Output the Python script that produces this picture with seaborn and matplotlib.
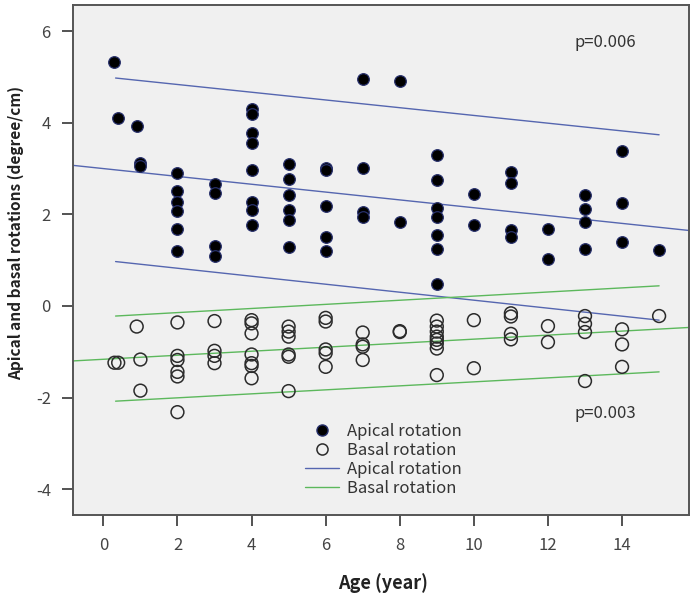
import numpy as np
import pandas as pd
import matplotlib
matplotlib.use("Agg")
import matplotlib.pyplot as plt
import seaborn as sns
from matplotlib.lines import Line2D

# ---- data ----
apical_age = [0.3, 0.4, 0.9, 1.0, 1.0,
              2, 2, 2, 2, 2, 2,
              3, 3, 3, 3,
              4, 4, 4, 4, 4, 4, 4, 4,
              5, 5, 5, 5, 5, 5,
              6, 6, 6, 6, 6,
              7, 7, 7, 7,
              8, 8,
              9, 9, 9, 9, 9, 9, 9,
              10, 10,
              11, 11, 11, 11,
              12, 12,
              13, 13, 13, 13,
              14, 14, 14,
              15]
apical_val = [5.32, 4.10, 3.94, 3.12, 3.05,
              2.90, 2.51, 2.28, 2.08, 1.68, 1.21,
              2.66, 2.46, 1.30, 1.10,
              4.31, 4.20, 3.77, 3.56, 2.97, 2.28, 2.10, 1.77,
              3.10, 2.77, 2.43, 2.10, 1.88, 1.28,
              3.01, 2.97, 2.19, 1.50, 1.19,
              4.96, 3.02, 2.05, 1.95,
              4.92, 1.84,
              3.30, 2.75, 2.14, 1.94, 1.54, 1.24, 0.48,
              2.44, 1.77,
              2.92, 2.68, 1.66, 1.50,
              1.68, 1.02,
              2.43, 2.12, 1.84, 1.24,
              3.39, 2.24, 1.39,
              1.22]

basal_age = [0.3, 0.4, 0.9, 1.0, 1.0,
             2, 2, 2, 2, 2, 2,
             3, 3, 3, 3,
             4, 4, 4, 4, 4, 4, 4,
             5, 5, 5, 5, 5, 5,
             6, 6, 6, 6, 6,
             7, 7, 7, 7,
             8, 8,
             9, 9, 9, 9, 9, 9, 9, 9,
             10, 10,
             11, 11, 11, 11,
             12, 12,
             13, 13, 13, 13,
             14, 14, 14,
             15]
basal_val = [-1.24, -1.24, -0.45, -1.17, -1.85,
             -0.36, -1.09, -1.18, -1.44, -1.54, -2.32,
             -0.33, -0.98, -1.09, -1.25,
             -0.31, -0.38, -0.60, -1.06, -1.25, -1.31, -1.58,
             -0.45, -0.56, -0.67, -1.06, -1.11, -1.86,
             -0.26, -0.34, -0.95, -1.03, -1.33,
             -0.58, -0.84, -0.89, -1.18,
             -0.55, -0.57,
             -0.32, -0.45, -0.56, -0.67, -0.74, -0.82, -0.93, -1.51,
             -0.31, -1.36,
             -0.16, -0.23, -0.61, -0.73,
             -0.44, -0.79,
             -0.22, -0.39, -0.57, -1.64,
             -0.51, -0.84, -1.33,
             -0.22]

# regression lines (values read at the ends of each line)
fit_x = [-0.8, 15.8]
apical_fit = [3.07, 1.65]
basal_fit = [-1.20, -0.47]
band_x = [0.33, 15.0]
apical_upper = [4.98, 3.74]
apical_lower = [0.97, -0.31]
basal_upper = [-0.22, 0.44]
basal_lower = [-2.08, -1.44]

x_ticks = [0, 2, 4, 6, 8, 10, 12, 14]
y_ticks = [-4, -2, 0, 2, 4, 6]
legend_labels = ["Apical rotation", "Basal rotation", "Apical rotation", "Basal rotation"]
p_apical = "p=0.006"
p_basal = "p=0.003"

# ---- styling ----
sns.set_style("ticks")
plt.rcParams['font.family'] = ['Noto Sans CJK KR', 'DejaVu Sans']
plt.rcParams['axes.unicode_minus'] = False

blue = "#5566b0"
green = "#5cb85c"
bg = "#f0f0f0"

fig = plt.figure(figsize=(6.95, 5.99), dpi=100)
ax = fig.add_axes([0.105, 0.140, 0.886, 0.852])
ax.set_facecolor(bg)

apical_df = pd.DataFrame({"age": apical_age, "rot": apical_val})
basal_df = pd.DataFrame({"age": basal_age, "rot": basal_val})

lines = [
    (fit_x, apical_fit, blue),
    (band_x, apical_upper, blue),
    (band_x, apical_lower, blue),
    (fit_x, basal_fit, green),
    (band_x, basal_upper, green),
    (band_x, basal_lower, green),
]
for xs, ys, c in lines:
    sns.lineplot(x=xs, y=ys, ax=ax, color=c, linewidth=1.0, zorder=2)

sns.scatterplot(data=apical_df, x="age", y="rot", ax=ax, s=70, color="black",
                edgecolor="#27306b", linewidth=0.9, zorder=3, legend=False)
sns.scatterplot(data=basal_df, x="age", y="rot", ax=ax, s=85, facecolor="none",
                edgecolor="#2b2b2b", linewidth=1.1, zorder=3, legend=False)

ax.set_xlim(-0.82, 15.8)
ax.set_ylim(-4.57, 6.58)
ax.set_xticks(x_ticks)
ax.set_yticks(y_ticks)
ax.tick_params(axis="both", direction="out", length=8, width=1.3, color="#444444",
               labelsize=12, labelcolor="#444444", pad=8)
for side in ["left", "bottom", "top", "right"]:
    ax.spines[side].set_visible(True)
    ax.spines[side].set_color("#555555")
    ax.spines[side].set_linewidth(1.4)

ax.set_xlabel("Age (year)", fontsize=13, fontweight="bold", color="#222222")
ax.set_ylabel("Apical and basal rotations (degree/cm)", fontsize=11.1,
              fontweight="bold", color="#222222")
ax.xaxis.label.set_verticalalignment("center")
ax.yaxis.label.set_verticalalignment("center")
ax.xaxis.set_label_coords(0.503, -0.133)
ax.yaxis.set_label_coords(-0.0925, 0.552)

ax.text(0.815, 0.927, p_apical, transform=ax.transAxes, fontsize=12,
        color="#333333", ha="left", va="center")
ax.text(0.815, 0.200, p_basal, transform=ax.transAxes, fontsize=12,
        color="#333333", ha="left", va="center")

handles = [
    Line2D([], [], linestyle="none", marker="o", markersize=8,
           markerfacecolor="black", markeredgecolor="#27306b"),
    Line2D([], [], linestyle="none", marker="o", markersize=8,
           markerfacecolor="none", markeredgecolor="#2b2b2b", markeredgewidth=1.1),
    Line2D([], [], color=blue, linewidth=1.0),
    Line2D([], [], color=green, linewidth=1.0),
]
leg = ax.legend(handles, legend_labels, loc="upper left",
                bbox_to_anchor=(0.361, 0.20), frameon=False, fontsize=12,
                labelspacing=0.12, handlelength=2.0, handletextpad=0.5,
                labelcolor="#333333", borderaxespad=0.2)

fig.savefig("out.png", dpi=100, facecolor="white")
